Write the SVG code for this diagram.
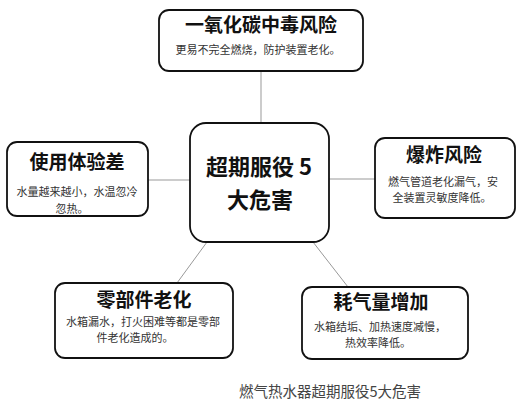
<svg xmlns="http://www.w3.org/2000/svg" width="525" height="403" viewBox="0 0 525 403">
<style>
.box{fill:#fff;stroke:#111;stroke-width:1.8}
.t{font-family:"Noto Sans CJK SC","Liberation Sans",sans-serif;font-weight:bold;fill:#111;text-anchor:middle}
.s{font-family:"Noto Sans CJK SC","Liberation Sans",sans-serif;font-size:11px;fill:#333;text-anchor:middle}
.c{stroke:#999;stroke-width:1;fill:none}
</style>
<rect width="525" height="403" fill="#fff"/>
<g id="connectors">
<line class="c" x1="261" y1="71" x2="261" y2="123"/>
<line class="c" x1="148" y1="180" x2="190" y2="180"/>
<line class="c" x1="329" y1="179" x2="375" y2="179"/>
<line class="c" x1="207" y1="242" x2="177" y2="283"/>
<line class="c" x1="313" y1="242" x2="348" y2="287"/>
</g>
<g id="center">
<rect class="box" x="190" y="123" width="139" height="119" rx="16"/>
<text class="t" font-size="22"><tspan x="259" y="175">超期服役 5</tspan><tspan x="260" y="208">大危害</tspan></text>
</g>
<g id="co">
<rect class="box" x="159" y="10" width="204" height="61" rx="10"/>
<text class="t" x="261" y="32" font-size="19">一氧化碳中毒风险</text>
<text class="s" x="258" y="54">更易不完全燃烧，防护装置老化。</text>
</g>
<g id="experience">
<rect class="box" x="7" y="142" width="141" height="74" rx="10"/>
<text class="t" x="77" y="169" font-size="19">使用体验差</text>
<text class="s"><tspan x="77" y="196">水量越来越小，水温忽冷</tspan><tspan x="72" y="213">忽热。</tspan></text>
</g>
<g id="explosion">
<rect class="box" x="375" y="138" width="140" height="80" rx="10"/>
<text class="t" x="444" y="162" font-size="19">爆炸风险</text>
<text class="s"><tspan x="443" y="186">燃气管道老化漏气，安</tspan><tspan x="442" y="202">全装置灵敏度降低。</tspan></text>
</g>
<g id="parts">
<rect class="box" x="55" y="283" width="178" height="75" rx="10"/>
<text class="t" x="144" y="307" font-size="19">零部件老化</text>
<text class="s"><tspan x="143" y="326">水箱漏水，打火困难等都是零部</tspan><tspan x="135" y="342">件老化造成的。</tspan></text>
</g>
<g id="gas">
<rect class="box" x="302" y="287" width="166" height="72" rx="10"/>
<text class="t" x="381" y="309" font-size="19">耗气量增加</text>
<text class="s"><tspan x="380" y="331">水箱结垢、加热速度减慢，</tspan><tspan x="378" y="347">热效率降低。</tspan></text>
</g>
<text x="330" y="397" font-family="Noto Sans CJK SC,Liberation Sans,sans-serif" font-size="14.5" fill="#444" text-anchor="middle">燃气热水器超期服役5大危害</text>
</svg>
